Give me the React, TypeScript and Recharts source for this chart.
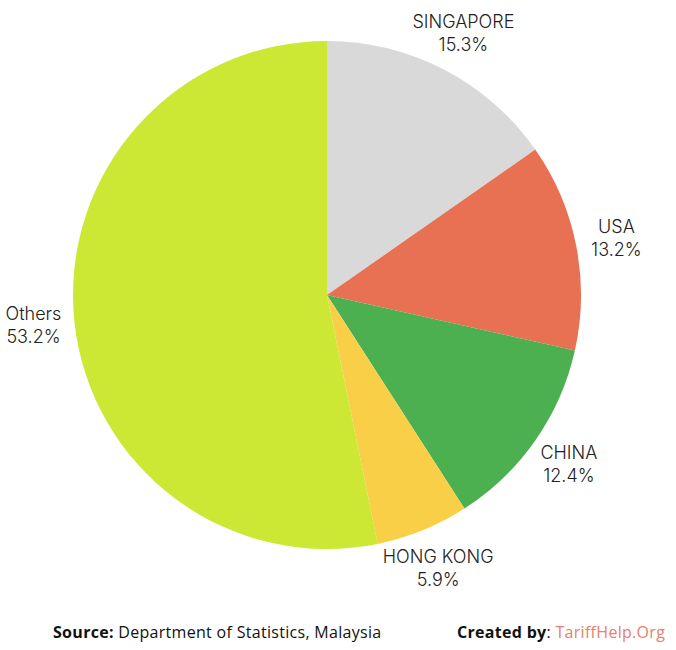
import { Pie, PieChart, Cell } from "recharts";

const COUNTRIES = ["SINGAPORE", "USA", "CHINA", "HONG KONG", "Others"];
const SHARES = [15.3, 13.2, 12.4, 5.9, 53.2];
const COLORS = ["#d9d9d9", "#e87153", "#4caf50", "#f8cf47", "#cde834"];

const data = COUNTRIES.map((name, i) => ({ name, value: SHARES[i] }));

const RADIAN = Math.PI / 180;

function renderLabel(props: any) {
  const { cx, cy, midAngle, outerRadius, name, value } = props;
  const r = outerRadius + 41;
  const x = cx + r * Math.cos(-midAngle * RADIAN);
  const y = cy + r * Math.sin(-midAngle * RADIAN);
  return (
    <text
      x={x}
      y={y}
      textAnchor="middle"
      fill="#222"
      style={{ fontFamily: "Inter, sans-serif", fontSize: 18, fontWeight: 300 }}
    >
      <tspan x={x} y={y - 5}>
        {name}
      </tspan>
      <tspan x={x} y={y + 18}>
        {value.toFixed(1)}%
      </tspan>
    </text>
  );
}

const footStyle = {
  position: "absolute" as const,
  top: 621,
  fontFamily: "'Open Sans', sans-serif",
  fontSize: 16,
  letterSpacing: 0.3,
  color: "#111",
  whiteSpace: "nowrap" as const,
};

export default function App() {
  return (
    <div
      style={{
        position: "absolute",
        left: 0,
        top: 0,
        width: 676,
        height: 650,
        background: "#fff",
      }}
    >
      <PieChart width={676} height={600} margin={{ top: 0, right: 0, bottom: 0, left: 0 }}>
        <Pie
          data={data}
          dataKey="value"
          nameKey="name"
          cx={327}
          cy={295}
          outerRadius={254}
          startAngle={90}
          endAngle={-270}
          stroke="none"
          label={renderLabel}
          labelLine={false}
          isAnimationActive={false}
        >
          {data.map((d, i) => (
            <Cell key={d.name} fill={COLORS[i]} />
          ))}
        </Pie>
      </PieChart>
      <div style={{ ...footStyle, left: 53 }}>
        <b>Source:</b> Department of Statistics, Malaysia
      </div>
      <div style={{ ...footStyle, left: 457 }}>
        <b>Created by</b>: <span style={{ color: "#e8806a" }}>TariffHelp.Org</span>
      </div>
    </div>
  );
}
